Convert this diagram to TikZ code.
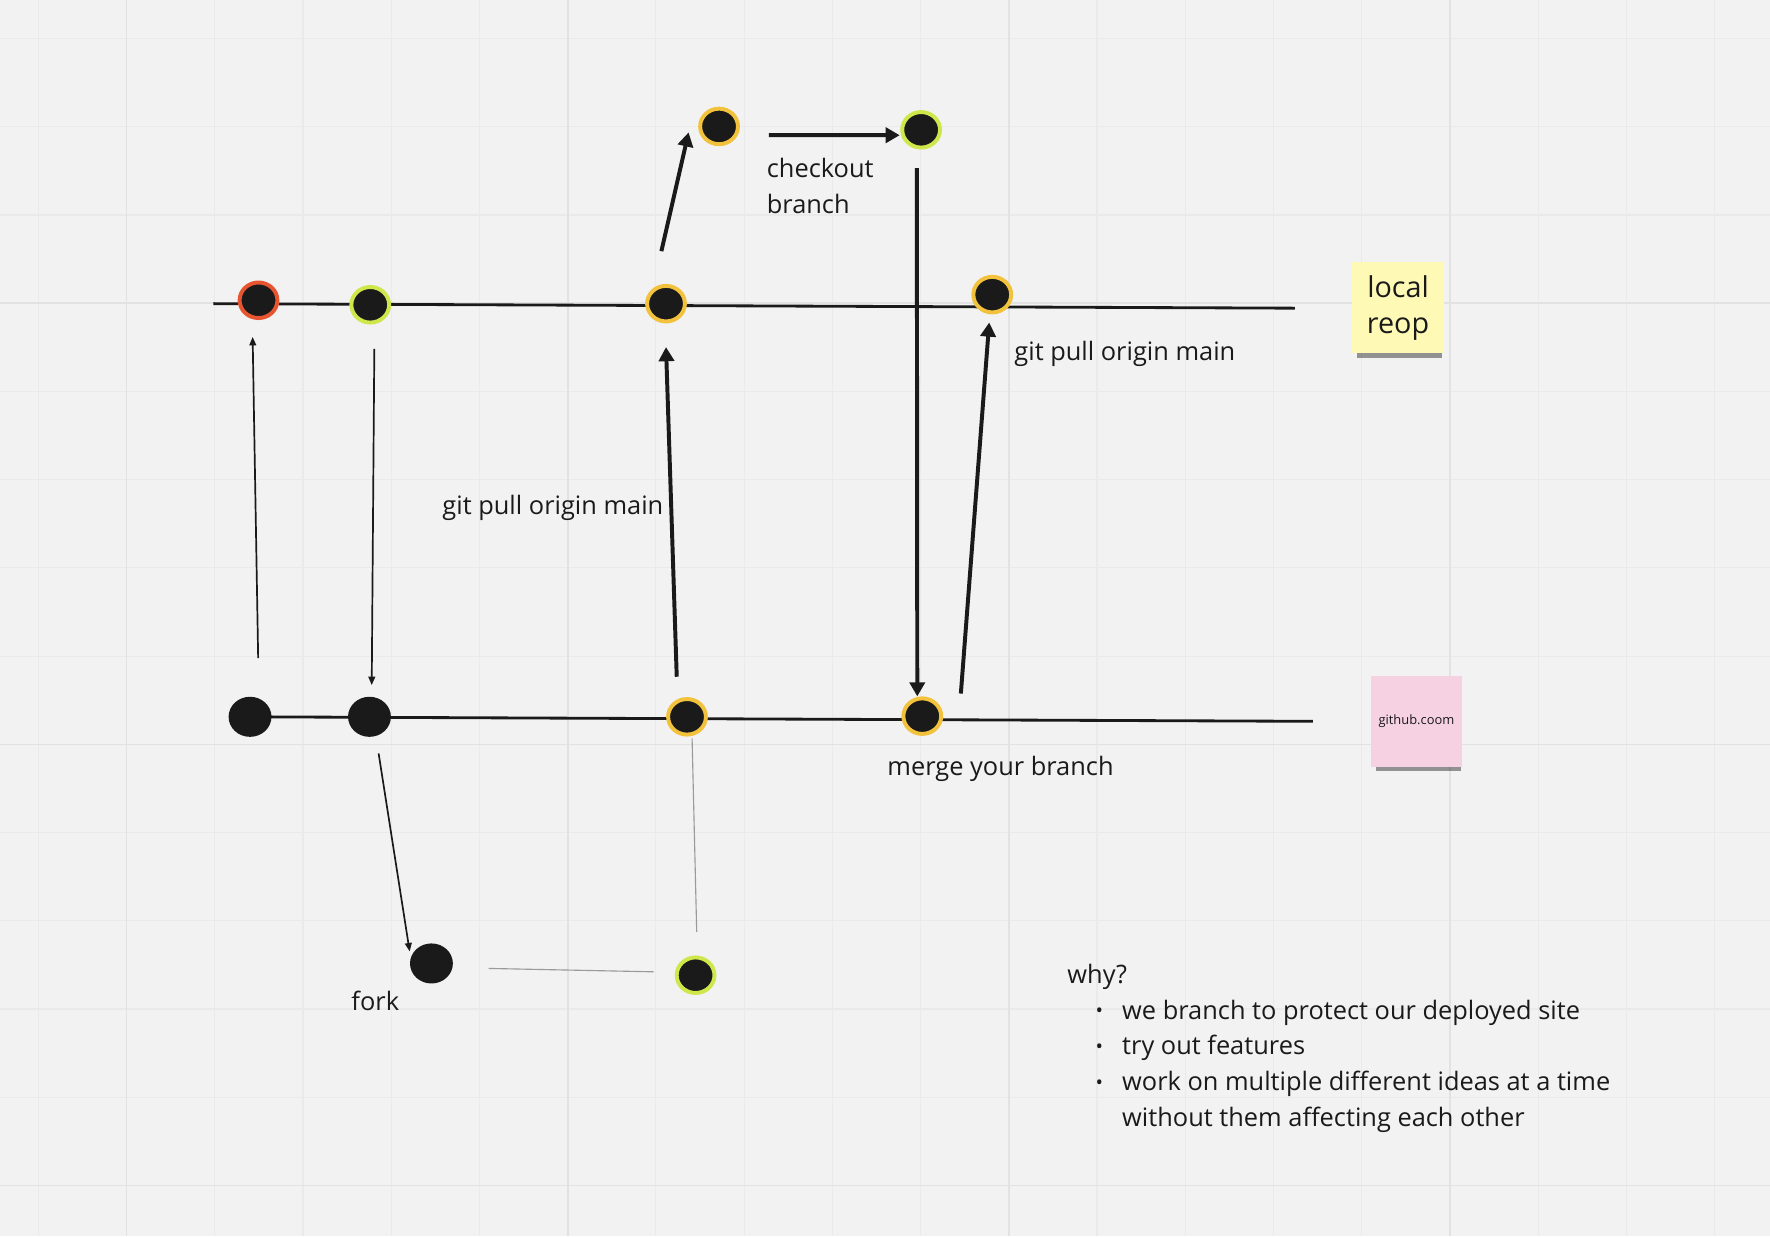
\documentclass[tikz,border=0pt]{standalone}
\usepackage{fontspec}
\setmainfont{Open Sans}
\usetikzlibrary{arrows.meta,shapes.geometric,shadows}
\definecolor{board}{HTML}{F2F2F2}
\definecolor{gridminor}{HTML}{EAEAEA}
\definecolor{gridmajor}{HTML}{E2E2E2}
\definecolor{ink}{HTML}{1A1A1A}
\definecolor{ringorange}{HTML}{F3C23C}
\definecolor{ringgreen}{HTML}{CFE74A}
\definecolor{ringred}{HTML}{E6552F}
\definecolor{stickyyellow}{HTML}{FFF9B6}
\definecolor{stickypink}{HTML}{F6D1E2}
\definecolor{fainted}{HTML}{9A9A9A}

\begin{document}
\begin{tikzpicture}[x=0.02cm, y=-0.02cm,
  commit/.style={ellipse, fill=ink, minimum width=0.76cm, minimum height=0.71cm, inner sep=0},
  ringed/.style={ellipse, fill=ink, draw=#1, line width=0.07cm, minimum width=0.67cm, minimum height=0.63cm, inner sep=0},
  thinarrow/.style={-{Triangle[length=0.15cm,width=0.12cm]}, line width=0.03cm, draw=ink},
  thickarrow/.style={-{Triangle[length=0.25cm,width=0.27cm]}, line width=0.07cm, draw=ink},
  greyline/.style={line width=0.02cm, draw=fainted},
  repoline/.style={line width=0.05cm, draw=ink},
  txt/.style={anchor=base west, inner sep=0, text=ink, font=\fontsize{12.8}{18}\selectfont},
  sticky/.style={minimum size=1.62cm, inner sep=0, align=center, text=ink, fill=#1,
    drop shadow={shadow xshift=0.03cm, shadow yshift=-0.14cm, shadow scale=0.93, fill=black, opacity=0.4}}
]
% board and grid
\fill[board] (0,0) rectangle (1568,1095);
\useasboundingbox (0,0) rectangle (1568,1095);
\foreach \i in {0,...,19}
  \draw[gridminor, line width=0.02cm] ({34+78.15*\i},0) -- ({34+78.15*\i},1095);
\foreach \j in {0,...,13}
  \draw[gridminor, line width=0.02cm] (0,{34.2+78.15*\j}) -- (1568,{34.2+78.15*\j});
\foreach \i in {1,6,11,16}
  \draw[gridmajor, line width=0.03cm] ({34+78.15*\i},0) -- ({34+78.15*\i},1095);
\foreach \j in {3,8,13}
  \draw[gridmajor, line width=0.03cm] (0,{34.2+78.15*\j}) -- (1568,{34.2+78.15*\j});

% the two repo lines
\coordinate (locstart) at (189,269);
\coordinate (locend) at (1147,273);
\coordinate (ghstart) at (221,635);
\coordinate (ghend) at (1163,639);
\draw[repoline] (locstart) -- (locend);
\draw[repoline] (ghstart) -- (ghend);

% commits
\node[ringed=ringred] (loc1) at (229,266) {};
\node[ringed=ringgreen] (loc2) at (328,270) {};
\node[ringed=ringorange] (loc3) at (590,269) {};
\node[ringed=ringorange] (loc4) at (879,261) {};
\node[ringed=ringorange] (br1) at (637,112) {};
\node[ringed=ringgreen] (br2) at (816,115) {};
\node[commit] (gh1) at (221.5,635) {};
\node[commit] (gh2) at (327.3,635) {};
\node[ringed=ringorange] (gh3) at (608.6,635) {};
\node[ringed=ringorange] (gh4) at (817,634.4) {};
\node[commit] (fk1) at (382.2,853.5) {};
\node[ringed=ringgreen] (fk2) at (616.2,863.9) {};

% arrows
\draw[thinarrow] ([xshift=0.144cm,yshift=0.68cm]gh1.north) -- ([xshift=-0.104cm,yshift=-0.3cm]loc1.south);
\draw[thinarrow] ([xshift=0.072cm,yshift=-0.43cm]loc2.south) -- ([xshift=0.04cm,yshift=0.2cm]gh2.north);
\draw[thickarrow] ([xshift=-0.182cm,yshift=0.36cm]gh3.north) -- ([yshift=-0.42cm]loc3.south);
\draw[thickarrow] ([xshift=-0.082cm,yshift=0.58cm]loc3.north) -- ([xshift=-0.17cm,yshift=-0.106cm]br1.west);
\draw[thickarrow] ([xshift=0.514cm,yshift=-0.154cm]br1.east) -- ([xshift=-0.01cm,yshift=-0.096cm]br2.west);
\draw[thickarrow] ([xshift=-0.076cm,yshift=-0.33cm]br2.south) -- ([xshift=-0.088cm]gh4.north);
\draw[thickarrow] ([xshift=0.314cm,yshift=0.4cm]gh4.east) -- ([xshift=-0.054cm,yshift=-0.144cm]loc4.south);
\draw[thinarrow] ([xshift=0.162cm,yshift=-0.286cm]gh2.south) -- ([xshift=-0.386cm,yshift=-0.149cm]fk1.north);
\draw[greyline] ([xshift=0.09cm,yshift=-0.032cm]gh3.south) -- ([xshift=0.02cm,yshift=0.416cm]fk2.north);
\draw[greyline] ([xshift=0.628cm,yshift=-0.088cm]fk1.east) -- ([xshift=-0.372cm,yshift=0.06cm]fk2.west);

% labels
\node[txt] (lblcheckout) at (679,157.6) {\begin{tabular}[t]{@{}l@{}}checkout\\branch\end{tabular}};
\node[txt] (lblpull1) at (391.6,455.4) {git pull origin main};
\node[txt] (lblpull2) at (898.3,319) {git pull origin main};
\node[txt] (lblmerge) at (785.8,686.9) {merge your branch};
\node[txt] (lblfork) at (311,894.9) {fork};
\node[txt] (lblwhy) at (945.3,871.2) {\begin{tabular}[t]{@{}p{0.97cm}@{}l@{}}
\multicolumn{2}{@{}l@{}}{why?}\\
\hspace*{0.5cm}\raisebox{0.6pt}{\fontsize{10}{10}\selectfont •} & we branch to protect our deployed site\\
\hspace*{0.5cm}\raisebox{0.6pt}{\fontsize{10}{10}\selectfont •} & try out features\\
\hspace*{0.5cm}\raisebox{0.6pt}{\fontsize{10}{10}\selectfont •} & work on multiple different ideas at a time\\
 & without them affecting each other
\end{tabular}};

% sticky notes
\node[sticky=stickyyellow, font=\fontsize{14.5}{18}\selectfont] (local) at (1238.5,272.6) {local\\reop};
\node[sticky=stickypink, font=\fontsize{6.5}{8}\selectfont] (github) at (1254.8,639.1) {github.coom};
\end{tikzpicture}
\end{document}
